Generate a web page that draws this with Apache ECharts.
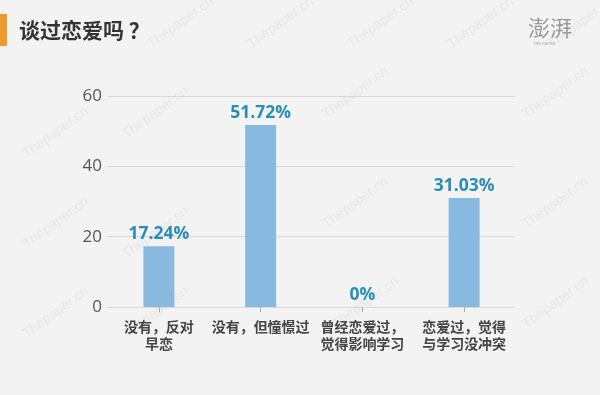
<!DOCTYPE html>
<html><head><meta charset="utf-8">
<script src="https://cdn.jsdelivr.net/npm/echarts@6/dist/echarts.min.js"></script>
<style>html,body{margin:0;padding:0;background:#f3f3f3;}#c{width:600px;height:395px;}</style>
</head><body><div id="c"></div>
<script>
const categories = ["没有，反对\n早恋", "没有，但憧憬过", "曾经恋爱过，\n觉得影响学习", "恋爱过，觉得\n与学习没冲突"];
const values = [17.24, 51.72, 0, 31.03];
const yTicks = [0, 20, 40, 60];

const chart = echarts.init(document.getElementById('c'), null, {renderer: 'canvas'});
const wm = [];
const wmPos = [[145,40],[245,40],[345,40],[445,40],[545,40],[20,150],[120,130],[320,110],[520,110],[20,240],[120,250],[320,220],[520,220],[20,330],[120,330],[330,320],[520,320]];
wmPos.forEach(p => wm.push({type:'text', x:p[0], y:p[1], rotation: Math.PI/5, silent:true, z:0,
  style:{text:'Thepaper.cn', fill:'rgba(0,0,0,0.06)', font:'14px "Liberation Sans", sans-serif'}}));

chart.setOption({
  backgroundColor: '#f3f3f3',
  animation: false,
  grid: {left: 108, right: 85, top: 96, bottom: 88, containLabel: false},
  xAxis: {
    type: 'category', data: categories,
    axisLine: {show: false},
    axisTick: {show: true, alignWithLabel: true, length: 5, lineStyle: {color: '#aaa'}, inside: false},
    offset: 5,
    axisLabel: {color: '#444', fontWeight: 'bold', fontSize: 14, lineHeight: 17, margin: 6, interval: 0,
      fontFamily: '"Noto Sans CJK SC", sans-serif'}
  },
  yAxis: {
    type: 'value', min: 0, max: 60, interval: 20,
    axisLine: {show: false}, axisTick: {show: false},
    splitLine: {lineStyle: {color: '#d8d8d8', width: 1}},
    axisLabel: {color: '#555', fontSize: 17, margin: 6, fontFamily: '"Open Sans", sans-serif'}
  },
  series: [{
    type: 'bar', data: values, barWidth: 31,
    itemStyle: {color: '#88b9df'},
    label: {show: true, position: 'top', distance: 3, formatter: p => p.value + '%',
      color: '#2a8db8', fontWeight: 'bold', fontSize: 17.5, fontFamily: '"Open Sans", sans-serif'}
  }],
  graphic: wm.concat([
    {type:'rect', shape:{x:0, y:14, width:7, height:32}, style:{fill:'#eb9a2e'}},
    {type:'text', x:19, y:30, style:{text:'谈过恋爱吗 ？', fill:'#333', font:'bold 21px "Noto Sans CJK SC", sans-serif', textVerticalAlign:'middle'}},
    {type:'text', x:528, y:28, style:{text:'澎湃', fill:'#999', font:'22px "Noto Sans CJK SC", serif', textVerticalAlign:'middle'}},
    {type:'text', x:533, y:42, style:{text:'THE PAPER', fill:'#aaa', font:'4px sans-serif'}}
  ])
});
</script></body></html>
